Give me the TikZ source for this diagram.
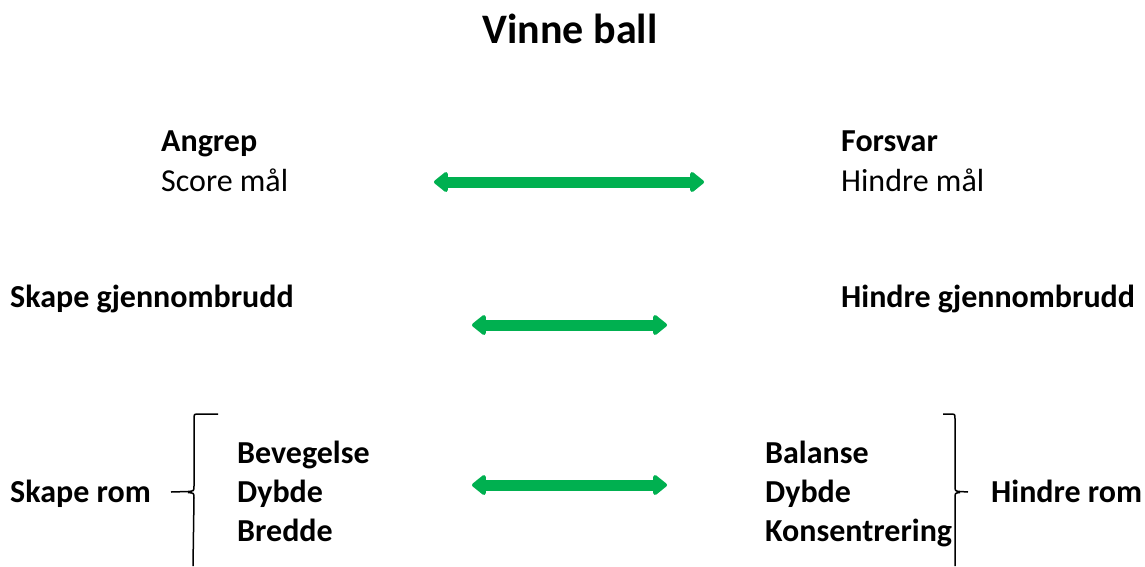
\documentclass[tikz,border=0pt]{standalone}
\usepackage{fontspec}
\setmainfont{Carlito}
\usetikzlibrary{arrows.meta}
\definecolor{arrowgreen}{HTML}{00B050}
\tikzset{
  txt/.style={anchor=base west, inner sep=0pt, font=\fontsize{32}{38}\selectfont},
  btxt/.style={txt, font=\fontsize{32}{38}\selectfont\bfseries},
  dbl/.style={arrowgreen, line width=11pt, {Triangle[width=23pt,length=15pt,round]}-{Triangle[width=23pt,length=15pt,round]}},
  brace/.style={black, line width=1.5pt}
}
\begin{document}
\begin{tikzpicture}[x=1pt,y=-1pt]
\useasboundingbox (0,0) rectangle (1145,566);
\node[anchor=base, inner sep=0pt, font=\fontsize{42}{50}\selectfont\bfseries] (title) at (570,43) {Vinne ball};
\node[btxt] (angrep) at (161,151) {Angrep};
\node[txt] (score) at (161,191) {Score mål};
\node[btxt] (forsvar) at (841,151) {Forsvar};
\node[txt] (hindre) at (841,191) {Hindre mål};
\node[btxt] (skapeg) at (10,307) {Skape gjennombrudd};
\node[btxt] (hindreg) at (841,307) {Hindre gjennombrudd};
\node[btxt] (skaperom) at (10,502) {Skape rom};
\node[btxt] (bev) at (237,463) {Bevegelse};
\node[btxt] (dyb1) at (237,502) {Dybde};
\node[btxt] (bre) at (237,541) {Bredde};
\node[btxt] (bal) at (765,463) {Balanse};
\node[btxt] (dyb2) at (765,502) {Dybde};
\node[btxt] (kons) at (765,541) {Konsentrering};
\node[btxt] (hindrerom) at (991,502) {Hindre rom};
\coordinate (a1l) at (434,182);
\coordinate (a1r) at (704,182);
\coordinate (a2l) at (472,325);
\coordinate (a2r) at (667,325);
\coordinate (a3l) at (472,485);
\coordinate (a3r) at (667,485);
\draw[dbl] (a1l) -- (a1r);
\draw[dbl] (a2l) -- (a2r);
\draw[dbl] (a3l) -- (a3r);
\coordinate (lbt) at (218,414);
\coordinate (lbm) at (171,492);
\coordinate (lbb) at (193,566);
\draw[brace] (lbt) -- (199,414) .. controls (194,414) .. (194,419) -- (194,486) .. controls (194,491) .. (188,491.5) -- (lbm);
\draw[brace] (188,492.5) .. controls (194,493) .. (194,498) -- (lbb);
\coordinate (rbt) at (943,414);
\coordinate (rbm) at (968,492);
\coordinate (rbb) at (955,566);
\draw[brace] (rbt) -- (950,414) .. controls (955,414) .. (955,419) -- (955,486) .. controls (955,491) .. (960,491.5) -- (rbm);
\draw[brace] (960,492.5) .. controls (955,493) .. (955,498) -- (rbb);
\end{tikzpicture}
\end{document}
